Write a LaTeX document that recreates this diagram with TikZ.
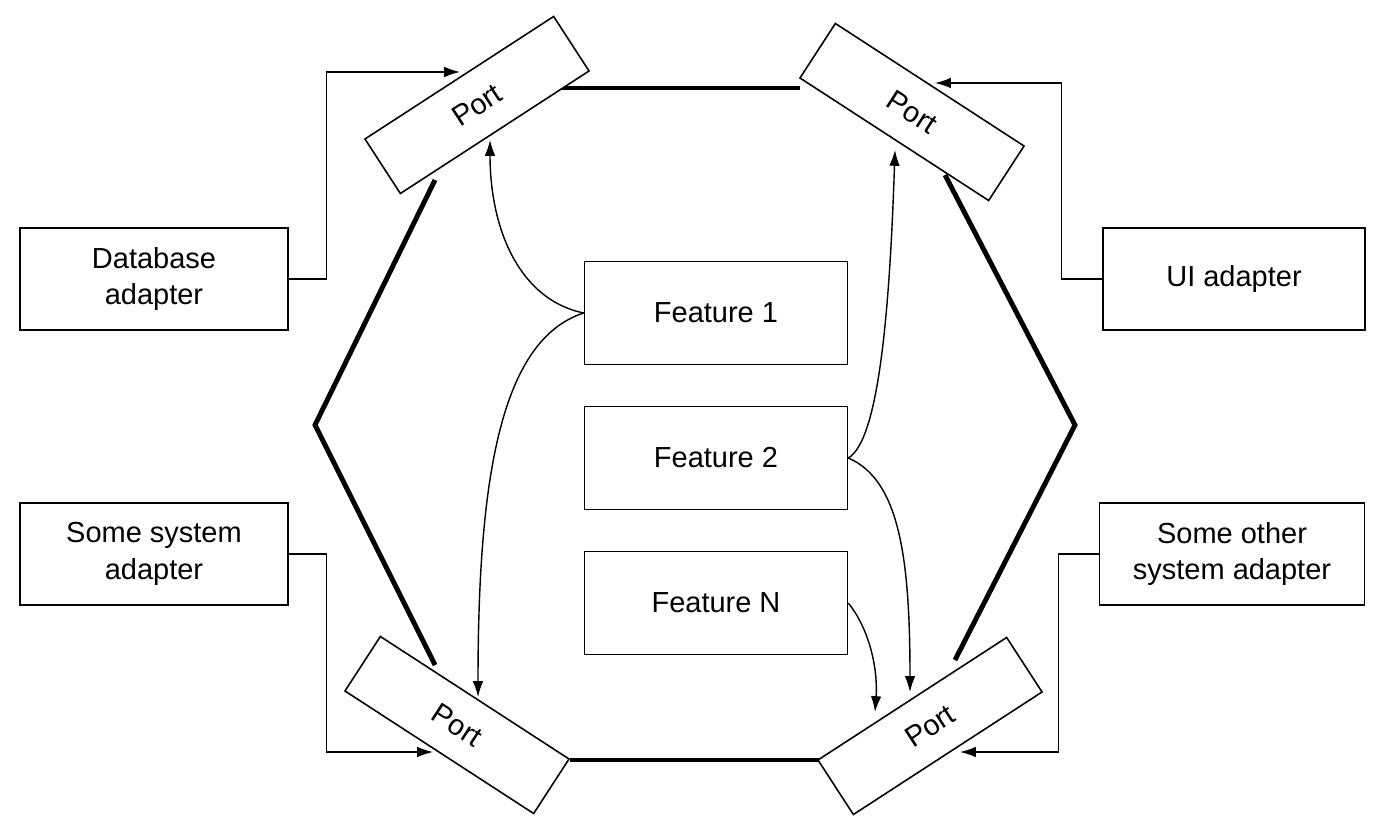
\documentclass[tikz,border=0pt]{standalone}
\usepackage{fontspec}
\setmainfont{Liberation Sans}
\usetikzlibrary{arrows.meta}
\begin{document}
\begin{tikzpicture}[x=0.02cm,y=-0.02cm,
  box/.style={draw,line width=0.9pt,fill=white,inner sep=0pt,font=\fontsize{16.5}{21}\selectfont,align=center},
  port/.style={box,minimum width=4.5cm,minimum height=1.3cm},
  hex/.style={line width=2.8pt},
  conn/.style={line width=0.8pt,-{Latex[length=9pt,width=6pt]}}]
\useasboundingbox (0,0) rectangle (1396,830);
% hexagon
\coordinate (h1) at (555,88); \coordinate (h2) at (800,88);
\coordinate (h3) at (945,175); \coordinate (h4) at (1075,425); \coordinate (h5) at (955,660);
\coordinate (h6) at (820,760); \coordinate (h7) at (570,760);
\coordinate (h8) at (435,665); \coordinate (h9) at (315,425); \coordinate (h10) at (435,180);
\draw[hex] (h1) -- (h2);
\draw[hex] (h3) -- (h4) -- (h5);
\draw[hex] (h6) -- (h7);
\draw[hex] (h8) -- (h9) -- (h10);
% ports
\node[port,rotate=33] (pTL) at (477,105) {Port};
\node[port,rotate=-33] (pTR) at (912,112) {Port};
\node[port,rotate=-33] (pBL) at (457,725) {Port};
\node[port,rotate=33] (pBR) at (930,726) {Port};
% adapters
\node[box,minimum width=5.36cm,minimum height=2.04cm] (db) at (154,279) {Database\\adapter};
\node[box,minimum width=5.24cm,minimum height=2.04cm] (ui) at (1234,279) {UI adapter};
\node[box,minimum width=5.36cm,minimum height=2.04cm] (ss) at (154,554) {Some system\\adapter};
\node[box,minimum width=5.3cm,minimum height=2.04cm] (os) at (1232,554) {Some other\\system adapter};
% features
\node[box,minimum width=5.26cm,minimum height=2.06cm] (f1) at (716,313) {Feature 1};
\node[box,minimum width=5.26cm,minimum height=2.06cm] (f2) at (716,458) {Feature 2};
\node[box,minimum width=5.26cm,minimum height=2.06cm] (fn) at (716,603) {Feature N};
% connector endpoints
\coordinate (e1) at (460,72); \coordinate (e2) at (935,83);
\coordinate (e3) at (433,752); \coordinate (e4) at (960,752);
\coordinate (t1) at (490,140); \coordinate (t2) at (478,697);
\coordinate (t3) at (895,150); \coordinate (t4) at (910,692);
\coordinate (t5) at (875,712);
\draw[conn] (db.east) -- ++(38,0) |- (e1);
\draw[conn] (ui.west) -- ++(-41,0) |- (e2);
\draw[conn] (ss.east) -- ++(38,0) |- (e3);
\draw[conn] (os.west) -- ++(-40,0) |- (e4);
\draw[conn] (f1.west) .. controls (520,300) and (490,230) .. (t1);
\draw[conn] (f1.west) .. controls (500,340) and (478,480) .. (t2);
\draw[conn] (f2.east) .. controls (880,440) and (890,300) .. (t3);
\draw[conn] (f2.east) .. controls (900,480) and (910,560) .. (t4);
\draw[conn] (fn.east) .. controls (870,630) and (878,670) .. (t5);
\end{tikzpicture}
\end{document}
